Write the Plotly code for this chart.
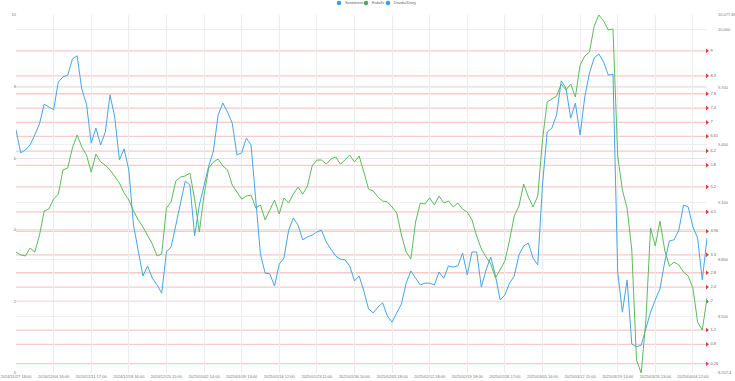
import plotly.graph_objects as go

# ---- data ----
tick_labels = ["2024/11/27 18:00", "2024/12/04 16:00", "2024/12/11 17:00", "2024/12/18 16:00",
               "2024/12/25 15:00", "2025/01/02 14:00", "2025/01/09 13:00", "2025/01/16 12:00",
               "2025/01/23 11:00", "2025/01/30 10:00", "2025/02/05 18:00", "2025/02/12 18:00",
               "2025/02/19 18:00", "2025/02/26 17:00", "2025/03/05 16:00", "2025/03/12 15:00",
               "2025/03/19 14:00", "2025/03/26 13:00", "2025/04/04 12:00"]
points_per_tick = 8

sentiment = [6.79, 6.15, 6.23, 6.37, 6.65, 6.96, 7.51, 7.43, 7.35, 8.13,
             8.27, 8.32, 8.77, 8.86, 7.93, 7.51, 6.42, 6.84, 6.37, 6.73,
             7.77, 7.15, 5.95, 6.26, 5.67, 4.13, 3.44, 2.71, 2.99, 2.65,
             2.46, 2.23, 3.38, 3.52, 4.13, 4.72, 5.36, 5.25, 3.83, 4.69,
             5.25, 5.78, 6.20, 7.21, 7.54, 7.29, 6.98, 6.09, 6.15, 6.56,
             6.37, 4.89, 3.32, 2.79, 2.77, 2.43, 3.04, 3.21, 3.99, 4.33,
             4.13, 3.72, 3.80, 3.85, 3.94, 3.99, 3.66, 3.46, 3.27, 3.18,
             3.16, 2.99, 2.57, 2.71, 2.29, 1.79, 1.68, 1.84, 1.96, 1.59,
             1.42, 1.68, 1.93, 2.51, 2.85, 2.65, 2.46, 2.51, 2.51, 2.46,
             2.82, 2.65, 2.99, 2.96, 2.99, 3.35, 2.74, 3.38, 3.38, 2.40,
             2.88, 3.24, 2.71, 2.04, 2.18, 2.51, 2.71, 3.30, 3.55, 3.63,
             3.21, 3.02, 5.25, 6.73, 6.84, 7.21, 8.16, 7.96, 7.12, 7.54,
             6.65, 7.71, 8.38, 8.80, 8.91, 8.69, 8.32, 8.35, 2.82, 1.70,
             2.60, 0.81, 0.73, 0.78, 1.23, 1.70, 2.04, 2.35, 3.10, 3.69,
             3.72, 3.99, 4.69, 4.64, 4.08, 3.77, 2.60, 3.77]

oil = [8839, 8824, 8819, 8860, 8839, 8928, 9054, 9064, 9116, 9142,
       9268, 9278, 9383, 9451, 9388, 9346, 9257, 9351, 9310, 9294,
       9268, 9237, 9200, 9148, 9111, 9054, 9007, 8970, 8928, 8881,
       8819, 8829, 9069, 9101, 9210, 9231, 9237, 9252, 9116, 8944,
       9137, 9278, 9310, 9325, 9289, 9268, 9190, 9153, 9116, 9132,
       9137, 9069, 9085, 9007, 9059, 9111, 9038, 9122, 9095, 9142,
       9179, 9142, 9184, 9289, 9320, 9320, 9299, 9325, 9336, 9299,
       9320, 9346, 9310, 9341, 9257, 9169, 9158, 9127, 9106, 9101,
       9075, 9043, 8928, 8839, 8803, 8996, 9095, 9090, 9122, 9085,
       9132, 9095, 9106, 9075, 9095, 9064, 9048, 9007, 8923, 8855,
       8813, 8777, 8704, 8745, 8792, 8902, 9028, 9080, 9195, 9127,
       9075, 9132, 9425, 9623, 9639, 9654, 9717, 9686, 9717, 9649,
       9816, 9863, 9884, 10020, 10077.68, 10046, 9999, 10005, 9341, 9163,
       9069, 8850, 8275, 8207.4, 8484, 8965, 8871, 9001, 8850, 8766,
       8787, 8772, 8735, 8714, 8651, 8474, 8432, 8599]

levels = [9, 8.3, 7.8, 7.4, 7, 6.61, 6.2, 5.8, 5.2, 4.5, 3.96, 3.3, 2.8, 2.4, 2, 1.2, 0.8, 0.26]
left_ticks = [0, 2, 4, 6, 8, 10]
price_ticks = [8207.4, 8500, 8800, 9100, 9400, 9700, 10000, 10077.68]
price_labels = ["8,207.4", "8,500", "8,800", "9,100", "9,400", "9,700", "10,000", "10,077.68"]
legend_names = ["Sentiment", "Erdalls", "Dezdu/Dney"]
legend_colors = ["#3d9fe3", "#4cb050", "#3d9fe3"]

BLUE = "#45a5e6"
GREEN = "#5dba5d"
FONT = "Liberation Sans"
FS = 4

W, H = 735, 381
ML, MR, MT, MB = 16, 28, 15, 8
PW, PH = W - ML - MR, H - MT - MB


def px_x(p):
    return (p - ML) / PW


def px_y(p):
    return (H - MB - p) / PH


x = list(range(len(sentiment)))
fig = go.Figure()

for lv in levels:
    fig.add_shape(type="line", xref="paper", x0=0, x1=1, yref="y", y0=lv, y1=lv,
                  line=dict(color="rgba(235,95,95,0.33)", width=1.3), layer="below")

fig.add_trace(go.Scatter(x=x, y=sentiment, mode="lines", line=dict(color=BLUE, width=1),
                         showlegend=False, hoverinfo="skip"))
fig.add_trace(go.Scatter(x=x, y=oil, yaxis="y2", mode="lines", line=dict(color=GREEN, width=1),
                         showlegend=False, hoverinfo="skip"))

fig.add_trace(go.Scatter(x=[x[-1]] * len(levels), y=levels, mode="markers+text",
                         text=[f"{v:g}" for v in levels], textposition="middle right",
                         marker=dict(symbol="triangle-right", size=4, color="#e23c3c"),
                         textfont=dict(size=FS, color="#666", family=FONT),
                         cliponaxis=False, showlegend=False, hoverinfo="skip"))

# compact legend (ECharts style: dot + label)
legend_dot_px = [339, 366, 388]
for name, col, dx in zip(legend_names, legend_colors, legend_dot_px):
    fig.add_shape(type="circle", xref="paper", yref="paper",
                  x0=px_x(dx - 2.3), x1=px_x(dx + 2.3), y0=px_y(5.3), y1=px_y(0.7),
                  fillcolor=col, line=dict(width=0))
    fig.add_annotation(xref="paper", yref="paper", x=px_x(dx + 4), y=px_y(3),
                       text=name, showarrow=False, xanchor="left", yanchor="middle",
                       font=dict(size=FS, color="#666", family=FONT))

fig.update_layout(
    width=W, height=H,
    margin=dict(l=ML, r=MR, t=MT, b=MB, autoexpand=False),
    paper_bgcolor="white", plot_bgcolor="white",
    font=dict(family=FONT, size=FS, color="#777"),
    showlegend=False,
    xaxis=dict(range=[0, len(sentiment) - 1],
               tickvals=[j * points_per_tick for j in range(len(tick_labels))],
               ticktext=tick_labels, showgrid=True, gridcolor="#ececec", gridwidth=1,
               zeroline=False, showline=False, ticks="", tickfont=dict(size=FS, color="#777"),
               ticklabelstandoff=0, automargin=False),
    yaxis=dict(range=[0, 10], tickvals=left_ticks, showgrid=True, gridcolor="#e6e6e6",
               zeroline=False, ticks="", tickfont=dict(size=FS, color="#777"),
               ticklabelstandoff=-1, automargin=False),
    yaxis2=dict(overlaying="y", side="right", range=[price_ticks[0], price_ticks[-1]],
                tickvals=price_ticks, ticktext=price_labels, showgrid=True, gridcolor="#eeeeee",
                zeroline=False, ticks="", tickfont=dict(size=FS, color="#777"),
                ticklabelstandoff=10, automargin=False),
)

fig.write_html("out.html",
               config={"displayModeBar": False, "staticPlot": True},
               post_script="document.body.style.margin='0px';document.body.style.overflow='hidden';")
